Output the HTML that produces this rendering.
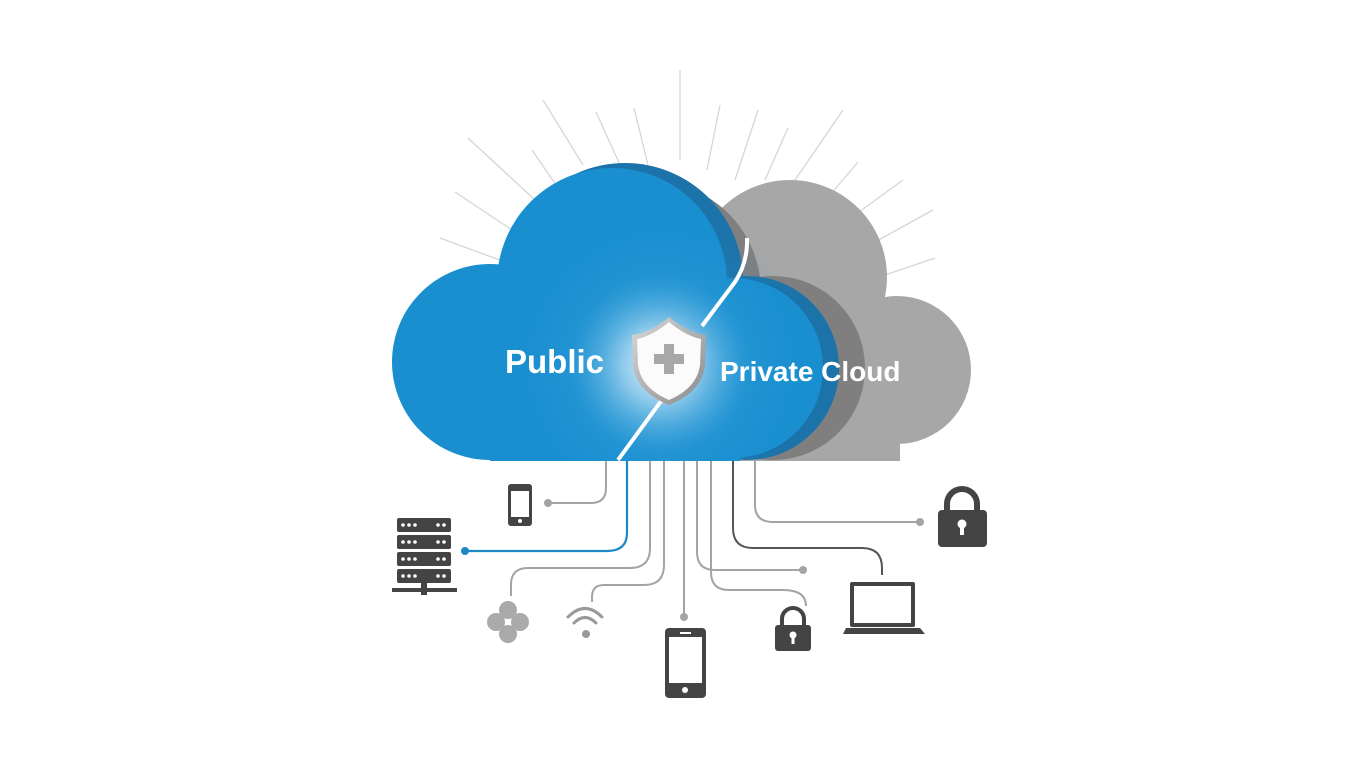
<!DOCTYPE html>
<html><head><meta charset="utf-8"><style>
html,body{margin:0;padding:0;background:#fff;width:1365px;height:768px;overflow:hidden}
svg{display:block}
text{font-family:"Liberation Sans",sans-serif}
</style></head><body>
<svg width="1365" height="768" viewBox="0 0 1365 768" xmlns="http://www.w3.org/2000/svg">
<defs>
<radialGradient id="glow" cx="660" cy="365" r="150" gradientUnits="userSpaceOnUse">
<stop offset="0" stop-color="#ffffff" stop-opacity="0.95"/>
<stop offset="0.25" stop-color="#bfe3f7" stop-opacity="0.7"/>
<stop offset="0.6" stop-color="#3fa6dc" stop-opacity="0.2"/>
<stop offset="1" stop-color="#1b90cf" stop-opacity="0"/>
</radialGradient>
<linearGradient id="shieldg" x1="0" y1="0" x2="1" y2="1">
<stop offset="0" stop-color="#d8d8d8"/><stop offset="1" stop-color="#8a8a8a"/>
</linearGradient>
<clipPath id="cl"><rect x="0" y="0" width="1365" height="461"/></clipPath>
</defs>
<!-- rays -->
<g stroke="#d6d6d6" stroke-width="1.3">
<line x1="680" y1="70" x2="680" y2="160"/>
<line x1="543" y1="100" x2="583" y2="165"/>
<line x1="596" y1="112" x2="620" y2="165"/>
<line x1="634" y1="108" x2="648" y2="165"/>
<line x1="468" y1="138" x2="535" y2="200"/>
<line x1="532" y1="150" x2="556" y2="185"/>
<line x1="455" y1="192" x2="515" y2="232"/>
<line x1="440" y1="238" x2="505" y2="262"/>
<line x1="720" y1="105" x2="707" y2="170"/>
<line x1="758" y1="110" x2="735" y2="180"/>
<line x1="788" y1="128" x2="765" y2="180"/>
<line x1="843" y1="110" x2="795" y2="180"/>
<line x1="858" y1="162" x2="830" y2="195"/>
<line x1="903" y1="180" x2="855" y2="215"/>
<line x1="933" y1="210" x2="875" y2="242"/>
<line x1="935" y1="258" x2="885" y2="275"/>
</g>
<g clip-path="url(#cl)">
<!-- gray light -->
<g fill="#a7a7a7">
<circle cx="790" cy="277" r="97"/>
<circle cx="897" cy="370" r="74"/>
<rect x="740" y="330" width="160" height="131"/>
</g>
<!-- gray dark -->
<g fill="#7f7f7f">
<circle cx="650" cy="292" r="111"/>
<circle cx="773" cy="368" r="92"/>
</g>
<!-- blue dark edges -->
<g fill="#1c73aa">
<circle cx="625" cy="281" r="118"/>
<circle cx="747" cy="368" r="92"/>
</g>
<!-- blue main -->
<g fill="#1a8fd0">
<circle cx="612" cy="283" r="115"/>
<circle cx="490" cy="362" r="98"/>
<circle cx="733" cy="368" r="90"/>
<rect x="490" y="300" width="250" height="161"/>
</g>
<rect x="380" y="140" width="500" height="330" fill="url(#glow)"/>
</g>
<!-- separator -->
<path d="M747,238 Q748,262 735,282 L702,326" stroke="#ffffff" stroke-width="4" fill="none"/>
<path d="M664,397 L618,460" stroke="#ffffff" stroke-width="4" fill="none"/>
<!-- shield -->
<path d="M669,317 Q650,333 632,335 L633,365 Q636,392 669,405 Q702,392 705,365 L706,335 Q688,333 669,317 Z" fill="url(#shieldg)"/>
<path d="M669,322 Q652,336 637,339 L638,365 Q641,388 669,400 Q697,388 700,365 L701,339 Q686,336 669,322 Z" fill="#fbfbfb"/>
<rect x="664" y="344" width="10" height="30" fill="#a8a8a8"/>
<rect x="654" y="354" width="30" height="10" fill="#a8a8a8"/>
<text x="505" y="373" font-size="33" font-weight="bold" fill="#fff">Public</text>
<text x="720" y="381" font-size="28" font-weight="bold" fill="#fff">Private Cloud</text>
<!-- connectors -->
<g fill="none" stroke="#a4a4a4" stroke-width="2">
<path d="M606,461 V488 Q606,503 591,503 H548"/>
<path d="M650,461 V548 Q650,568 630,568 H528 Q512,568 511,583 V596"/>
<path d="M664,461 V565 Q664,585 644,585 H604 Q592,585 592,597 V602"/>
<path d="M684,461 V615"/>
<path d="M697,461 V552 Q697,570 715,570 H803"/>
<path d="M711,461 V572 Q711,590 729,590 H783 Q806,590 806,606"/>
<path d="M755,461 V505 Q755,522 773,522 H920"/>
</g>
<path d="M733,461 V528 Q733,548 753,548 H862 Q882,548 882,568 V575" fill="none" stroke="#555" stroke-width="2"/>
<path d="M627,461 V533 Q627,551 607,551 H465" fill="none" stroke="#1e88c6" stroke-width="2.2"/>
<g fill="#a4a4a4"><circle cx="548" cy="503" r="4"/><circle cx="684" cy="617" r="4"/><circle cx="803" cy="570" r="4"/><circle cx="920" cy="522" r="4"/></g>
<circle cx="465" cy="551" r="4" fill="#1e88c6"/>
<!-- phone small -->
<rect x="508" y="484" width="24" height="42" rx="3" fill="#444"/>
<rect x="511" y="491" width="18" height="26" fill="#fff"/>
<circle cx="520" cy="521" r="2" fill="#fff"/>
<!-- server -->
<g fill="#444">
<rect x="397" y="518" width="54" height="14" rx="2"/>
<rect x="397" y="535" width="54" height="14" rx="2"/>
<rect x="397" y="552" width="54" height="14" rx="2"/>
<rect x="397" y="569" width="54" height="14" rx="2"/>
<rect x="392" y="588" width="65" height="4"/>
<rect x="421" y="583" width="6" height="12"/>
</g>
<g fill="#fff">
<circle cx="403" cy="525" r="1.8"/><circle cx="409" cy="525" r="1.8"/><circle cx="415" cy="525" r="1.8"/><circle cx="438" cy="525" r="1.8"/><circle cx="444" cy="525" r="1.8"/>
<circle cx="403" cy="542" r="1.8"/><circle cx="409" cy="542" r="1.8"/><circle cx="415" cy="542" r="1.8"/><circle cx="438" cy="542" r="1.8"/><circle cx="444" cy="542" r="1.8"/>
<circle cx="403" cy="559" r="1.8"/><circle cx="409" cy="559" r="1.8"/><circle cx="415" cy="559" r="1.8"/><circle cx="438" cy="559" r="1.8"/><circle cx="444" cy="559" r="1.8"/>
<circle cx="403" cy="576" r="1.8"/><circle cx="409" cy="576" r="1.8"/><circle cx="415" cy="576" r="1.8"/><circle cx="438" cy="576" r="1.8"/><circle cx="444" cy="576" r="1.8"/>
</g>
<!-- flower -->
<g fill="#aaa"><circle cx="508" cy="610" r="9"/><circle cx="496" cy="622" r="9"/><circle cx="520" cy="622" r="9"/><circle cx="508" cy="634" r="9"/></g>
<!-- wifi -->
<g fill="none" stroke="#999" stroke-width="3" stroke-linecap="round">
<path d="M568,617 Q585,600 602,617"/><path d="M574,623 Q585,612 596,623"/>
</g>
<circle cx="586" cy="634" r="4" fill="#999"/>
<!-- phone big -->
<rect x="665" y="628" width="41" height="70" rx="4" fill="#444"/>
<rect x="669" y="637" width="33" height="46" fill="#fff"/>
<rect x="680" y="632" width="11" height="2" fill="#fff"/>
<circle cx="685" cy="690" r="3" fill="#fff"/>
<!-- lock small -->
<path d="M782,626 V619 A11,11 0 0 1 804,619 V626" fill="none" stroke="#444" stroke-width="4"/>
<rect x="775" y="625" width="36" height="26" rx="3" fill="#444"/>
<circle cx="793" cy="635" r="3.5" fill="#fff"/><rect x="791.5" y="636" width="3" height="8" fill="#fff"/>
<!-- lock big -->
<path d="M947,512 V504 A15,15 0 0 1 977,504 V512" fill="none" stroke="#444" stroke-width="6"/>
<rect x="938" y="510" width="49" height="37" rx="4" fill="#444"/>
<circle cx="962" cy="524" r="4.5" fill="#fff"/><rect x="960" y="525" width="4" height="10" fill="#fff"/>
<!-- laptop -->
<rect x="850" y="582" width="65" height="45" rx="2" fill="#444"/>
<rect x="854" y="586" width="57" height="37" fill="#fff"/>
<path d="M846,628 H920 L925,634 H843 Z" fill="#444"/>
</svg>
</body></html>
